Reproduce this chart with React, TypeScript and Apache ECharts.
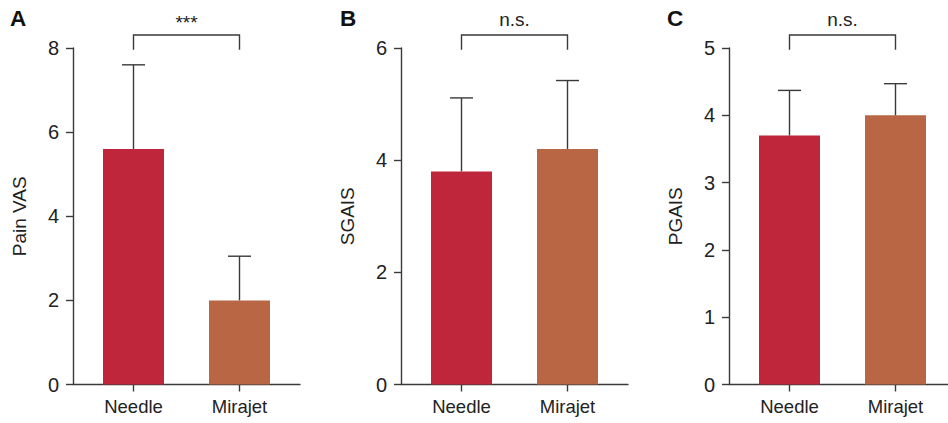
import React, { useEffect, useRef } from "react";
import * as echarts from "echarts";

const categories = ["Needle", "Mirajet"];
const panelLetters = ["A", "B", "C"];
const yNames = ["Pain VAS", "SGAIS", "PGAIS"];
const yMax = [8, 6, 5];
const yInterval = [2, 2, 1];
const needleMean = [5.6, 3.8, 3.7];
const needleSD = [2.0, 1.31, 0.67];
const mirajetMean = [2.0, 4.2, 4.0];
const mirajetSD = [1.05, 1.22, 0.47];
const sigLabels = ["***", "n.s.", "n.s."];

const FONT = "'Liberation Sans', Arial, Helvetica, sans-serif";
const NEEDLE_COLOR = "#BF253B";
const MIRAJET_COLOR = "#B86644";
const AXIS_COLOR = "#3a3a3a";
const TEXT_COLOR = "#222222";

const gridLefts = [73, 401, 729];
const gridWidths = [227, 227, 219];
const letterLefts = [10, 340, 667];
const unitPx = 106;
const xMin = 1 - 60.5 / unitPx;

export default function App() {
  const ref = useRef<HTMLDivElement>(null);
  useEffect(() => {
    if (!ref.current) return;
    const chart = echarts.init(ref.current, undefined, { renderer: "svg" });
    const grids: any[] = [];
    const xAxes: any[] = [];
    const yAxes: any[] = [];
    const series: any[] = [];
    const titles: any[] = [];
    for (let i = 0; i < 3; i++) {
      grids.push({
        left: gridLefts[i],
        top: 48,
        width: gridWidths[i],
        height: 336.5,
        containLabel: false,
        outerBoundsMode: "none",
      });
      xAxes.push({
        type: "value",
        gridIndex: i,
        min: xMin,
        max: xMin + gridWidths[i] / unitPx,
        axisLine: { show: true, lineStyle: { color: AXIS_COLOR, width: 1.4 } },
        axisTick: {
          show: true,
          customValues: [1, 2],
          length: 7,
          lineStyle: { color: AXIS_COLOR, width: 1.4 },
        },
        axisLabel: {
          customValues: [1, 2],
          formatter: (v: number) => categories[Math.round(v) - 1] ?? "",
          fontSize: 18.5,
          fontFamily: FONT,
          color: TEXT_COLOR,
          margin: 12,
        },
        splitLine: { show: false },
      });
      yAxes.push({
        type: "value",
        gridIndex: i,
        min: 0,
        max: yMax[i],
        interval: yInterval[i],
        name: yNames[i],
        nameLocation: "middle",
        nameGap: 44,
        nameTextStyle: { fontSize: 19, fontFamily: FONT, color: TEXT_COLOR },
        axisLine: { show: true, lineStyle: { color: AXIS_COLOR, width: 1.4 } },
        axisTick: { show: true, length: 7, lineStyle: { color: AXIS_COLOR, width: 1.4 } },
        axisLabel: { fontSize: 20, fontFamily: FONT, color: TEXT_COLOR, margin: 14 },
        splitLine: { show: false },
      });
      titles.push({
        text: panelLetters[i],
        left: letterLefts[i],
        top: 7,
        padding: 0,
        textStyle: { fontSize: 22.5, fontWeight: "bold", color: "#111", fontFamily: FONT },
      });
      series.push({
        type: "bar",
        xAxisIndex: i,
        yAxisIndex: i,
        barWidth: 61,
        data: [
          { value: [1, needleMean[i]], itemStyle: { color: NEEDLE_COLOR } },
          { value: [2, mirajetMean[i]], itemStyle: { color: MIRAJET_COLOR } },
        ],
      });
      series.push({
        type: "custom",
        xAxisIndex: i,
        yAxisIndex: i,
        clip: false,
        z: 3,
        encode: { x: 0, y: 1 },
        data: [
          [1, needleMean[i], needleSD[i]],
          [2, mirajetMean[i], mirajetSD[i]],
        ],
        renderItem: (params: any, api: any) => {
          const x = api.value(0);
          const m = api.value(1);
          const s = api.value(2);
          const base = api.coord([x, m]);
          const top = api.coord([x, m + s]);
          const hw = 11.5;
          const style = { stroke: AXIS_COLOR, lineWidth: 1.4 };
          return {
            type: "group",
            children: [
              { type: "line", shape: { x1: base[0], y1: base[1], x2: top[0], y2: top[1] }, style },
              { type: "line", shape: { x1: top[0] - hw, y1: top[1], x2: top[0] + hw, y2: top[1] }, style },
            ],
          };
        },
      });
      const isStars = sigLabels[i].indexOf("*") >= 0;
      series.push({
        type: "custom",
        xAxisIndex: i,
        yAxisIndex: i,
        clip: false,
        z: 3,
        encode: { x: [0, 1], y: 2 },
        data: [[1, 2, yMax[i]]],
        renderItem: (params: any, api: any) => {
          const p1 = api.coord([api.value(0), api.value(2)]);
          const p2 = api.coord([api.value(1), api.value(2)]);
          const yTop = p1[1];
          const by = yTop - 13;
          const legBottom = yTop + 1.7;
          return {
            type: "group",
            children: [
              {
                type: "polyline",
                shape: {
                  points: [
                    [p1[0], legBottom],
                    [p1[0], by],
                    [p2[0], by],
                    [p2[0], legBottom],
                  ],
                },
                style: { stroke: AXIS_COLOR, lineWidth: 1.4, fill: "none" },
              },
              {
                type: "text",
                x: (p1[0] + p2[0]) / 2,
                y: by - (isStars ? 12.5 : 16),
                style: {
                  text: sigLabels[i],
                  align: "center",
                  verticalAlign: "middle",
                  fontSize: 19,
                  fontFamily: FONT,
                  fill: TEXT_COLOR,
                },
              },
            ],
          };
        },
      });
    }
    chart.setOption({
      animation: false,
      backgroundColor: "#ffffff",
      title: titles,
      grid: grids,
      xAxis: xAxes,
      yAxis: yAxes,
      series,
    });
    return () => chart.dispose();
  }, []);
  return (
    <div
      ref={ref}
      style={{ position: "fixed", left: 0, top: 0, width: 948, height: 423 }}
    />
  );
}
